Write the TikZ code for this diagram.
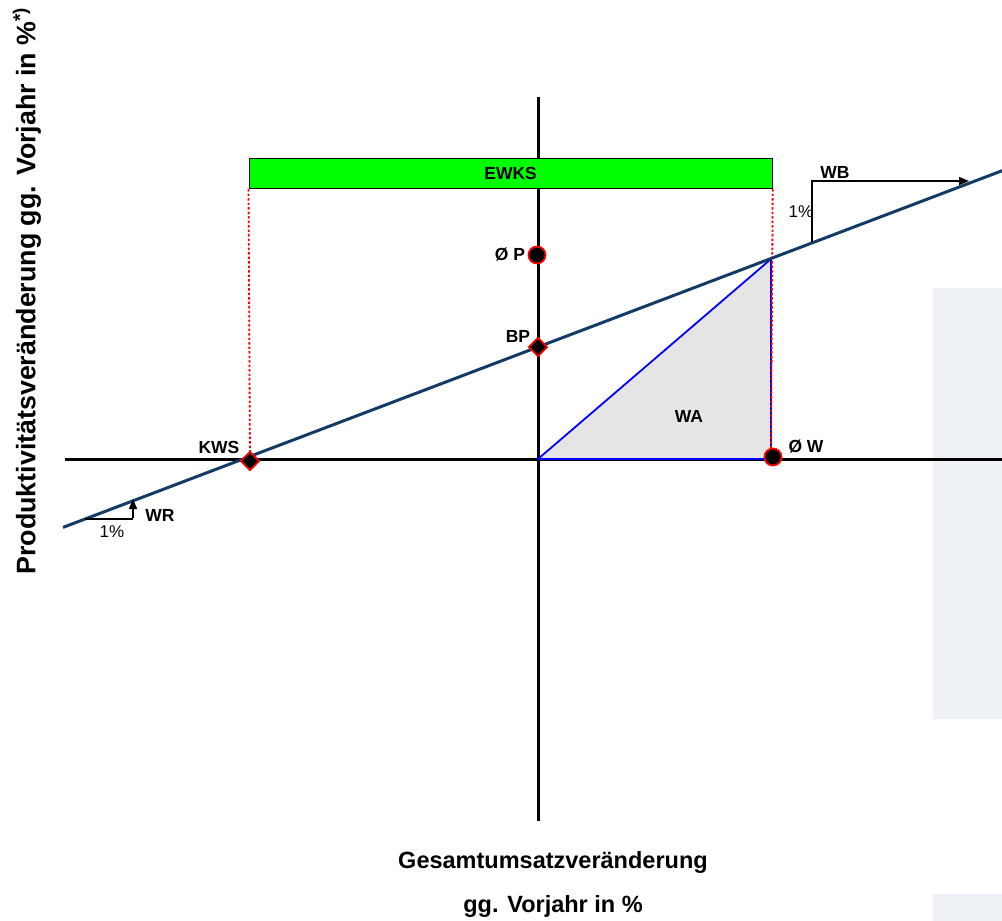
\documentclass[tikz,border=0pt]{standalone}
\usepackage{fontspec}
\setmainfont{Liberation Sans}
\usetikzlibrary{arrows.meta,shapes.geometric}
\definecolor{mainline}{RGB}{18,60,102}
\definecolor{lightpanel}{RGB}{238,242,247}
\definecolor{triFill}{RGB}{229,229,229}
\definecolor{barGreen}{RGB}{0,255,0}
\tikzset{
  lbl/.style={font=\bfseries\fontsize{17.5}{20}\selectfont, inner sep=1pt},
  pct/.style={font=\fontsize{17}{20}\selectfont, inner sep=1pt},
  axis/.style={line width=3pt, black},
  dotmark/.style={circle, fill=black, draw=red, line width=1.8pt, minimum size=17pt, inner sep=0pt},
  diamark/.style={diamond, fill=black, draw=red, line width=1.8pt, minimum size=19pt, inner sep=0pt},
  reddot/.style={red, line width=1.8pt, dash pattern=on 2.5pt off 2pt},
  slopearrow/.style={line width=1.5pt, -{Triangle[length=10pt,width=8pt]}},
  title/.style={font=\bfseries\fontsize{#1}{28}\selectfont, inner sep=0pt},
}
\begin{document}
\begin{tikzpicture}[x=1pt,y=-1pt]
\useasboundingbox (0,0) rectangle (1002,921);
% light panels
\fill[lightpanel] (933,288) rectangle (1002,719);
\fill[lightpanel] (933,894) rectangle (1002,921);
% coordinates
\coordinate (O) at (538,459);
\coordinate (xl) at (65,459);
\coordinate (xr) at (1002,459);
\coordinate (yt) at (538,97);
\coordinate (yb) at (538,821);
\coordinate (T) at (771,259);
\coordinate (Wp) at (771,459);
% triangle WA
\fill[triFill] (O) -- (T) -- (Wp) -- cycle;
% axes
\draw[axis] (xl) -- (xr);
\draw[axis] (yt) -- (yb);
% triangle lines
\draw[blue, line width=1.8pt, line join=round] (O) -- (T) -- (Wp) -- cycle;
% EWKS bar
\node[draw=black, fill=barGreen, line width=1.2pt, minimum width=523pt, minimum height=30pt, inner sep=0pt, anchor=north west, font=\bfseries\fontsize{17.5}{20}\selectfont] (ewks) at (248.5,158) {EWKS};
% red dotted lines
\coordinate (kws) at (250,461);
\draw[reddot] (ewks.south west) -- (kws);
\draw[reddot] (ewks.south east) -- (Wp);
% main line
\coordinate (mlA) at (63,527.4);
\coordinate (mlB) at (1004,170);
\draw[mainline, line width=3pt] (mlA) -- (mlB);
% WB
\coordinate (wb0) at (812,242);
\coordinate (wb1) at (812,181);
\coordinate (wb2) at (969,181);
\draw[line width=1.5pt] (wb0) -- (wb1);
\draw[slopearrow] ([xshift=-0.75pt]wb1) -- (wb2);
\node[lbl] (wbl) at (835,172) {WB};
\node[pct] (wbp) at (801,212) {1\%};
% WR
\coordinate (wr0) at (85,519);
\coordinate (wr1) at (133,519);
\coordinate (wr2) at (133,499);
\draw[line width=1.5pt] (wr0) -- (wr1);
\draw[slopearrow] ([yshift=0.75pt]wr1) -- (wr2);
\node[lbl] (wrl) at (160,515) {WR};
\node[pct] (wrp) at (112,532) {1\%};
% markers
\node[dotmark] (op) at (537,255) {};
\node[diamark] (bp) at (538,347) {};
\node[diamark] (kwsm) at (kws) {};
\node[dotmark] (ow) at (773,457) {};
% labels
\node[lbl] (opl) at (510,255) {Ø P};
\node[lbl] (bpl) at (518,336) {BP};
\node[lbl] (kwsl) at (219,447) {KWS};
\node[lbl] (wal) at (689,416) {WA};
\node[lbl] (owl) at (806,447) {Ø W};
% axis titles
\node[title=26.8, rotate=90] (ylab) at (27,291) {Produktivitätsveränderung gg. Vorjahr in \%\textsuperscript{*)}};
\node[title=23.5] (xlab1) at (553,862) {Gesamtumsatzveränderung};
\node[title=23.5] (xlab2) at (553,906) {gg. Vorjahr in \%};
\end{tikzpicture}
\end{document}
